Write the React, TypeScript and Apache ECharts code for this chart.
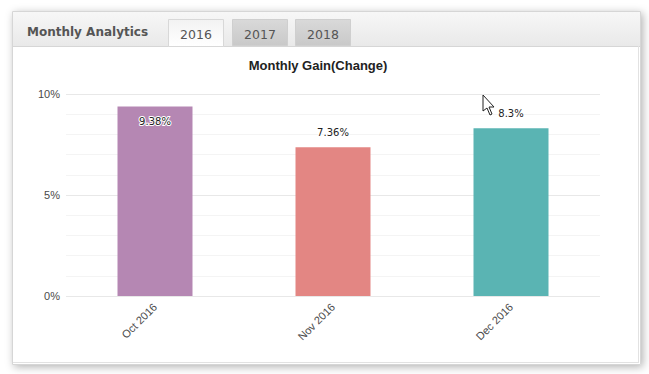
import React, { useEffect, useRef } from "react";
import * as echarts from "echarts";

const categories = ["Oct 2016", "Nov 2016", "Dec 2016"];
const gains = [9.38, 7.36, 8.3];
const barColors = ["#b587b3", "#e38683", "#5ab4b3"];
const labelInside = [true, false, false];
const tabs = ["2016", "2017", "2018"];
const yTicks = [0, 5, 10];

export default function App() {
  const ref = useRef<HTMLDivElement>(null);
  useEffect(() => {
    if (!ref.current) return;
    const chart = echarts.init(ref.current, null, { renderer: "svg" });
    const tabX = [168, 232, 295];
    const tabGraphics: any[] = [];
    tabs.forEach((t, i) => {
      const active = i === 0;
      tabGraphics.push({
        type: "rect",
        shape: { x: tabX[i] + 0.5, y: 19.5, width: 55, height: active ? 27 : 26 },
        style: {
          fill: new echarts.graphic.LinearGradient(0, 0, 0, 1, active
            ? [{ offset: 0, color: "#f2f2f2" }, { offset: 1, color: "#ffffff" }]
            : [{ offset: 0, color: "#d9d9d9" }, { offset: 1, color: "#c9c9c9" }]),
          stroke: active ? "#d8d8d8" : "#cfcfcf",
          lineWidth: 1,
        },
        z: 3,
      });
      tabGraphics.push({
        type: "text",
        x: tabX[i] + 28,
        y: 34,
        style: {
          text: t,
          font: "12.5px 'DejaVu Sans'",
          fill: "#555555",
          align: "center",
          verticalAlign: "middle",
        },
        z: 4,
      });
    });
    chart.setOption({
      animation: false,
      title: {
        text: "Monthly Gain(Change)",
        left: 313,
        top: 54,
        textAlign: "center",
        textStyle: { fontFamily: "'Liberation Sans', Arial", fontSize: 13, fontWeight: "bold", color: "#222222" },
      },
      graphic: [
        {
          type: "rect",
          shape: { x: 12.5, y: 11.5, width: 628, height: 353 },
          style: { fill: "#ffffff", stroke: "#d6d6d6", lineWidth: 1, shadowBlur: 9, shadowColor: "rgba(0,0,0,0.3)", shadowOffsetX: 2, shadowOffsetY: 2 },
          z: 0,
        },
        {
          type: "rect",
          shape: { x: 13, y: 12, width: 627, height: 34 },
          style: {
            fill: new echarts.graphic.LinearGradient(0, 0, 0, 1, [
              { offset: 0, color: "#f7f7f7" },
              { offset: 1, color: "#e9e9e9" },
            ]),
          },
          z: 1,
        },
        {
          type: "line",
          shape: { x1: 13, y1: 46.5, x2: 640, y2: 46.5 },
          style: { stroke: "#d6d6d6", lineWidth: 1 },
          z: 2,
        },
        {
          type: "line",
          shape: { x1: 638.5, y1: 46, x2: 638.5, y2: 362 },
          style: { stroke: "#e2e2e2", lineWidth: 1 },
          z: 2,
        },
        {
          type: "line",
          shape: { x1: 13, y1: 362.5, x2: 639, y2: 362.5 },
          style: { stroke: "#e2e2e2", lineWidth: 1 },
          z: 2,
        },
        {
          type: "text",
          x: 27,
          y: 32,
          style: {
            text: "Monthly Analytics",
            font: "bold 12px 'DejaVu Sans'",
            fill: "#555555",
            verticalAlign: "middle",
          },
          z: 4,
        },
        ...tabGraphics,
        {
          type: "polygon",
          shape: {
            points: [[483, 95], [483, 111], [487, 108], [490, 115], [492, 114], [489, 107], [494, 107]],
          },
          style: { fill: "#ffffff", stroke: "#222222", lineWidth: 1 },
          z: 10,
        },
      ],
      grid: { left: 66, right: 49, top: 94, bottom: 78, containLabel: false },
      xAxis: {
        type: "category",
        data: categories,
        axisLine: { show: false },
        axisTick: { show: false },
        axisLabel: {
          rotate: 45,
          margin: 9,
          color: "#4a4a4a",
          fontFamily: "'Liberation Sans', Arial",
          fontSize: 11,
        },
      },
      yAxis: {
        type: "value",
        min: yTicks[0],
        max: yTicks[yTicks.length - 1],
        interval: 5,
        axisLine: { show: false },
        axisTick: { show: false },
        axisLabel: {
          formatter: (v: number) => v + "%",
          color: "#4a4a4a",
          fontFamily: "'Liberation Sans', Arial",
          fontSize: 11,
          margin: 6,
        },
        splitLine: { lineStyle: { color: "#e8e8e8", width: 1 } },
        minorTick: { show: false, splitNumber: 5 },
        minorSplitLine: { show: true, lineStyle: { color: "#f4f4f4", width: 1 } },
      },
      series: [
        {
          type: "bar",
          barWidth: 75,
          data: gains.map((v, i) => ({
            value: v,
            itemStyle: { color: barColors[i] },
            label: {
              show: true,
              position: labelInside[i] ? "insideTop" : "top",
              distance: 10,
              formatter: v + "%",
              color: "#222222",
              fontFamily: "'DejaVu Sans'",
              fontSize: 10,
              textBorderColor: "#ffffff",
              textBorderWidth: 2,
            },
          })),
        },
      ],
    });
    return () => chart.dispose();
  }, []);
  return (
    <div
      ref={ref}
      style={{ position: "fixed", left: 0, top: 0, width: 649, height: 374, background: "#ffffff" }}
    />
  );
}
